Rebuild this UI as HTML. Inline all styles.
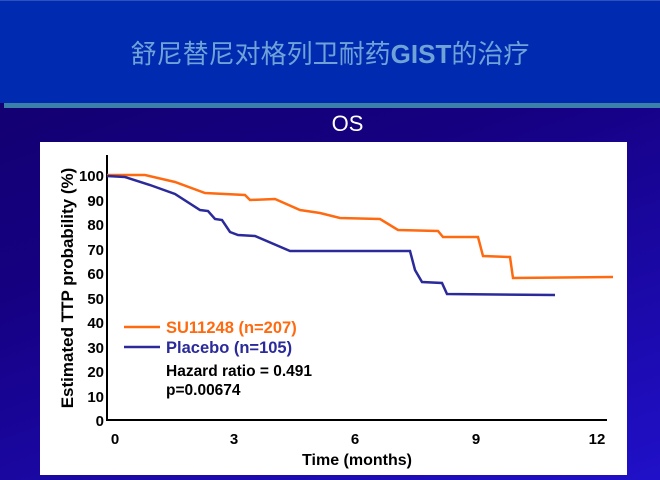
<!DOCTYPE html>
<html><head><meta charset="utf-8"><style>
body{margin:0;width:660px;height:480px;overflow:hidden;font-family:"Liberation Sans","Noto Sans CJK SC",sans-serif;
background:linear-gradient(160deg,#12006a 0%,#150080 40%,#2010c8 100%);position:relative}
#hdr{position:absolute;left:0;top:0;width:660px;height:103px;background:#002bb0;border-top:1px solid #3050c0;box-sizing:border-box}
#hdr div{position:absolute;left:0;width:660px;top:33px;text-align:center;color:#6fa3d8;font-size:26px}
#bar{position:absolute;left:4px;top:103px;width:656px;height:5px;background:#3a80a8}
#os{position:absolute;left:0;width:695px;top:111px;text-align:center;color:#fff;font-size:22px}
#panel{position:absolute;left:40px;top:142px;width:587px;height:333px;background:#fff}
svg{position:absolute;left:0;top:0}
</style></head><body>
<div id="hdr"><div>舒尼替尼对格列卫耐药<b>GIST</b>的治疗</div></div>
<div id="bar"></div>
<div id="os">OS</div>
<div id="panel"></div>
<svg width="660" height="480" font-family="Liberation Sans, sans-serif" font-weight="bold">
<line x1="107" y1="155" x2="107" y2="421" stroke="#000" stroke-width="2"/>
<line x1="106" y1="420" x2="607" y2="420" stroke="#000" stroke-width="2"/>
<g font-size="15" text-anchor="end" fill="#000">
<text x="104" y="181">100</text><text x="104" y="206">90</text><text x="104" y="230">80</text><text x="104" y="255">70</text><text x="104" y="279">60</text><text x="104" y="304">50</text><text x="104" y="328">40</text><text x="104" y="353">30</text><text x="104" y="377">20</text><text x="104" y="402">10</text><text x="104" y="426">0</text>
</g>
<g font-size="15" text-anchor="middle">
<text x="115" y="444">0</text><text x="234" y="444">3</text><text x="355" y="444">6</text><text x="476" y="444">9</text><text x="597" y="444">12</text>
<text x="357" y="465" font-size="16">Time (months)</text>
</g>
<text transform="translate(73,288) rotate(-90)" font-size="17" text-anchor="middle" font-weight="normal" style="font-weight:600">Estimated TTP probability (%)</text>
<polyline fill="none" stroke="#ff6a10" stroke-width="2.5" points="107,175 145,175 175,182 205,193 245,195 250,200 275,199 300,210 320,213 340,218 380,219 398,230 438,231 443,237 478,237 483,256 510,257 513,278 613,277"/>
<polyline fill="none" stroke="#2a2a9a" stroke-width="2.5" points="107,176 125,177 150,185 175,194 200,210 208,211 215,219 222,220 230,232 238,235 255,236 290,251 410,251 415,270 422,282 442,283 447,294 555,295"/>
<line x1="124" y1="327" x2="160" y2="327" stroke="#ff6a10" stroke-width="2.5"/>
<line x1="124" y1="347" x2="160" y2="347" stroke="#2a2a9a" stroke-width="2.5"/>
<text x="166" y="333" font-size="16.5" fill="#ff6a10">SU11248 (n=207)</text>
<text x="166" y="353" font-size="16.5" fill="#2a2a9a">Placebo (n=105)</text>
<text x="166" y="376" font-size="15.5" fill="#000">Hazard ratio = 0.491</text>
<text x="166" y="395" font-size="15.5" fill="#000">p=0.00674</text>
</svg>
</body></html>
